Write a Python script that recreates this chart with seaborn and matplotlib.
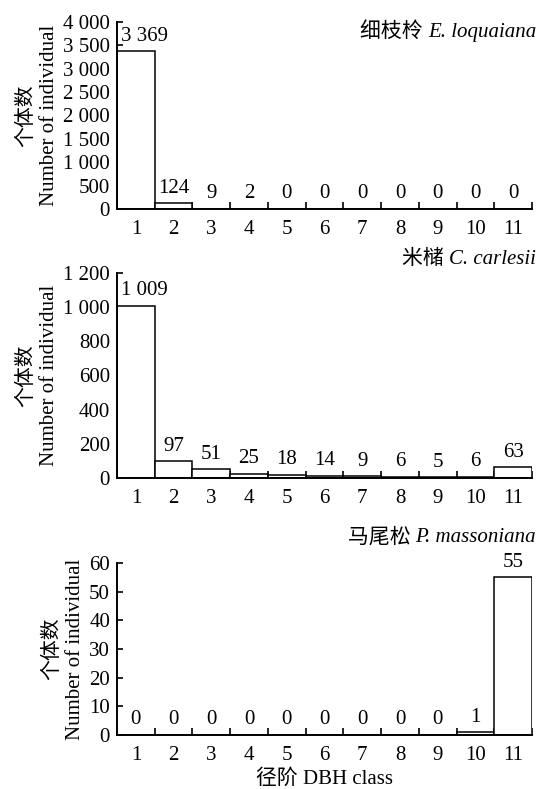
import matplotlib
matplotlib.use("Agg")
import matplotlib.pyplot as plt
import seaborn as sns
import pandas as pd
import numpy as np
from matplotlib.ticker import FuncFormatter, FixedLocator

classes = ["1", "2", "3", "4", "5", "6", "7", "8", "9", "10", "11"]
loquaiana = [3369, 124, 9, 2, 0, 0, 0, 0, 0, 0, 0]
carlesii = [1009, 97, 51, 25, 18, 14, 9, 6, 5, 6, 63]
massoniana = [0, 0, 0, 0, 0, 0, 0, 0, 0, 1, 55]

titles_cn = ["细枝柃", "米槠", "马尾松"]
titles_la = ["E. loquaiana", "C. carlesii", "P. massoniana"]
ylims = [4000, 1200, 60]
ysteps = [500, 200, 10]
ylabel = "个体数\nNumber of individual"
xlabel = "径阶 DBH class"

sns.set_theme(style="ticks")
fam = ["Liberation Serif", "Noto Sans CJK SC"]
plt.rcParams["font.family"] = fam

FS = 15
W, H = 539, 789
fig = plt.figure(figsize=(W / 100, H / 100), dpi=100)

# (top_px, bottom_px)
boxes = [(22, 209), (273, 478), (563, 735)]
left_px, right_px = 117, 532
title_y = [32, 259, 538]

def fmt(v, pos=None):
    v = int(round(v))
    return f"{v:,}".replace(",", " ")

series = [loquaiana, carlesii, massoniana]
for i, vals in enumerate(series):
    top, bot = boxes[i]
    ax = fig.add_axes([left_px / W, 1 - bot / H, (right_px - left_px) / W, (bot - top) / H])
    df = pd.DataFrame({"cls": classes, "n": vals})
    sns.barplot(data=df, x="cls", y="n", ax=ax, color="white", edgecolor="black",
                linewidth=1.1, width=1.0, saturation=1)
    ax.set_xlim(-0.5, 10.5)
    ax.set_ylim(0, ylims[i])
    ax.yaxis.set_major_locator(FixedLocator(np.arange(0, ylims[i] + 1, ysteps[i])))
    ax.yaxis.set_major_formatter(FuncFormatter(fmt))
    for s in ["top", "right"]:
        ax.spines[s].set_visible(False)
    for s in ["left", "bottom"]:
        ax.spines[s].set_linewidth(1.4)
        ax.spines[s].set_color("black")
    ax.tick_params(axis="x", which="major", length=0, labelsize=FS, pad=8, colors="black")
    ax.xaxis.set_minor_locator(FixedLocator(np.arange(0.5, 10.6, 1.0)))
    ax.tick_params(axis="x", which="minor", direction="in", length=5, width=1.2, color="black")
    ax.tick_params(axis="y", which="major", direction="in", length=4, width=1.2,
                   labelsize=FS, pad=5, colors="black")
    ax.set_ylabel(ylabel, fontsize=FS, color="black", labelpad=3, linespacing=1.25)
    ax.set_xlabel(xlabel if i == 2 else "", fontsize=FS, color="black", labelpad=3)
    anns = ax.bar_label(ax.containers[0], labels=[fmt(v) for v in vals], padding=4,
                        fontsize=FS, color="black")
    # wide label on the first bar is shifted right to clear the axis, as in the reference
    if vals[0] >= 1000:
        a = anns[0]
        a.xy = (-0.5, vals[0])
        a.set_horizontalalignment("left")
        a.xyann = (3, 4)
    # title
    ty = 1 - title_y[i] / H
    t_la = fig.text(536 / W, ty, titles_la[i], ha="right", va="center",
                    fontsize=FS, style="italic", family="Liberation Serif", color="black")
    fig.canvas.draw()
    ax.annotate(titles_cn[i] + " ", xy=(0, 0.5), xycoords=t_la, ha="right", va="center",
                fontsize=FS, color="black", family=fam)

fig.savefig("out.png", dpi=100, facecolor="white")
